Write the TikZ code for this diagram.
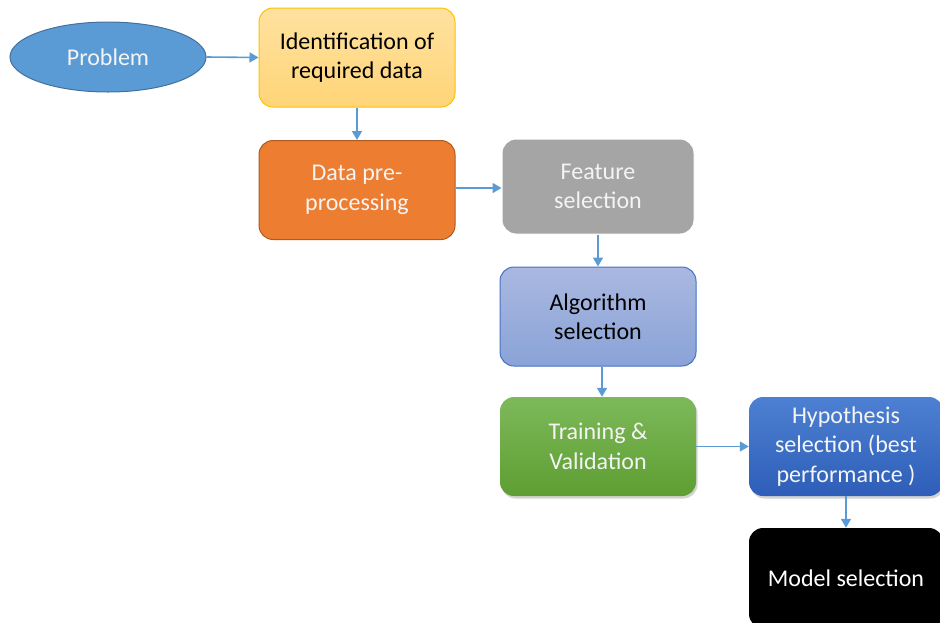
\documentclass[tikz,border=0pt]{standalone}
\usepackage{fontspec}
\setmainfont{Carlito}
\usetikzlibrary{shapes.geometric,arrows.meta,shadows}
\definecolor{linkblue}{HTML}{5B9BD5}
\definecolor{ellfill}{HTML}{5B9BD5}
\definecolor{elldraw}{HTML}{41719C}
\definecolor{identtop}{HTML}{FFE2A0}
\definecolor{identbot}{HTML}{FFD477}
\definecolor{identdraw}{HTML}{FFC000}
\definecolor{prepfill}{HTML}{ED7D31}
\definecolor{prepdraw}{HTML}{AE5A21}
\definecolor{featfill}{HTML}{A5A5A5}
\definecolor{algotop}{HTML}{AAB8E0}
\definecolor{algobot}{HTML}{8AA3D8}
\definecolor{algodraw}{HTML}{4472C4}
\definecolor{traintop}{HTML}{7DB95A}
\definecolor{trainbot}{HTML}{5E9E32}
\definecolor{hyptop}{HTML}{4D80D2}
\definecolor{hypbot}{HTML}{2E5EB8}
\definecolor{txtlight}{HTML}{F4F4F4}
\tikzset{
  x=1pt, y=-1pt,
  every node/.style={font=\fontsize{24}{29.5}\selectfont, align=center, inner sep=2pt},
  stepbox/.style={rounded corners=14pt, minimum width=196pt, minimum height=99pt},
  link/.style={draw=linkblue, line width=1.6pt, -{Triangle[length=9pt,width=10pt]}},
  softshadow/.style={drop shadow={opacity=0.35, shadow xshift=1.5pt, shadow yshift=-2.5pt}},
}
\begin{document}
\begin{tikzpicture}
\useasboundingbox (0,0) rectangle (940,622);

% stages of the workflow
\node[ellipse, fill=ellfill, draw=elldraw, line width=1pt,
      minimum width=196pt, minimum height=70pt, text=txtlight]
  (problem) at (108,57) {Problem};
\node[stepbox, top color=identtop, bottom color=identbot, draw=identdraw, line width=1pt,
      text=black]
  (ident) at (357,57.5) {Identification of\\required data};
\node[stepbox, fill=prepfill, draw=prepdraw, line width=1pt, text=txtlight]
  (prep) at (357,190) {Data pre-\\processing};
\node[stepbox, minimum width=192pt, minimum height=95pt, fill=featfill, draw=white,
      line width=1pt, text=txtlight]
  (feat) at (598,186.5) {Feature\\selection};
\node[stepbox, top color=algotop, bottom color=algobot, draw=algodraw, line width=1pt,
      text=black]
  (algo) at (598,316.5) {Algorithm\\selection};
\node[stepbox, top color=traintop, bottom color=trainbot, softshadow, text=txtlight]
  (train) at (598,446.5) {Training \&\\Validation};
\node[stepbox, minimum width=194pt, top color=hyptop, bottom color=hypbot, softshadow,
      text=txtlight]
  (hyp) at (846,446.5) {Hypothesis\\selection (best\\performance )};
\node[stepbox, minimum width=194pt, minimum height=100pt, fill=black, text=white]
  (model) at (846,578) {Model selection};

% connectors
\draw[link] (problem.east) -- (ident.west);
\draw[link] (ident.south) -- (prep.north);
\draw[link] (prep.east |- 0,188) -- (feat.west |- 0,188);
\draw[link] (feat.south) -- (algo.north);
\draw[link] (algo.south -| 602,0) -- (train.north -| 602,0);
\draw[link] (train.east) -- (hyp.west);
\draw[link] (hyp.south) -- (model.north);
\end{tikzpicture}
\end{document}
